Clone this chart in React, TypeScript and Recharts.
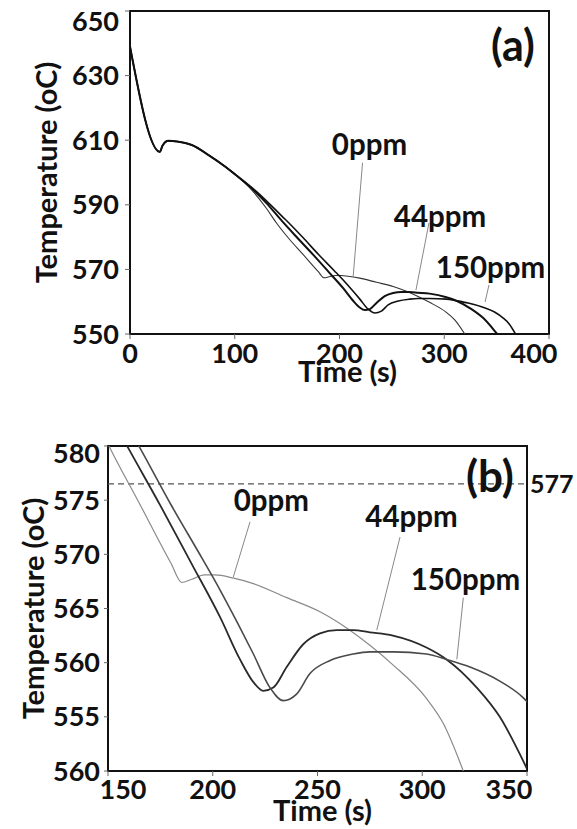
import React from 'react';
import { LineChart, Line, XAxis, YAxis, ReferenceLine, ReferenceArea, ReferenceDot } from 'recharts';

const FONT = 'Lato, "Open Sans", "DejaVu Sans", sans-serif';

// cooling curves, time (s) / temperature (oC)
const TIME_0PPM = [0, 28.6, 31, 36.6, 45, 59, 75, 91, 100, 115, 130, 140, 151, 165, 180, 185.2, 190, 196, 201, 210, 219.4, 235.3, 251.2, 263.9, 275, 286, 302, 310, 319.6];
const TEMP_0PPM = [639, 606.4, 608.3, 609.8, 609.6, 608.5, 605.4, 601.8, 599.5, 595.0, 589.0, 584.3, 579.8, 574.7, 569.2, 567.4, 567.7, 568.1, 568.1, 567.8, 567.3, 566.0, 564.7, 563.2, 561.6, 559.8, 556.7, 554.4, 550];

const TIME_44PPM = [0, 28.6, 31, 36.6, 45, 59, 75, 91, 100, 115, 130, 145, 159.7, 175, 190, 203.5, 213, 219.4, 224.1, 228.9, 235.3, 243.2, 251.2, 259.2, 267, 275, 286, 302, 311.6, 326, 337, 348, 350.5];
const TEMP_44PPM = [639, 606.4, 608.3, 609.8, 609.6, 608.5, 605.4, 601.8, 599.5, 595.4, 590.6, 585.0, 579.8, 574.5, 569.1, 564.2, 560.3, 558.2, 557.4, 557.7, 559.6, 561.7, 562.7, 563.0, 563.0, 562.8, 562.5, 561.4, 560.3, 557.7, 555.0, 551.0, 550];

const TIME_150PPM = [0, 28.6, 31, 36.6, 45, 59, 75, 91, 100, 115, 130, 145, 155, 165.3, 180, 195, 203.5, 212, 219.4, 227.3, 233.7, 240, 246.4, 256, 267, 275, 286, 302, 311.6, 322.8, 337, 348, 356, 362, 368];
const TEMP_150PPM = [639, 606.4, 608.3, 609.8, 609.6, 608.5, 605.4, 601.8, 599.5, 595.7, 591.3, 586.5, 583.3, 579.8, 574.6, 569.6, 566.7, 563.6, 560.8, 557.7, 556.5, 557.1, 559.0, 560.2, 560.8, 561.0, 561.0, 560.8, 560.3, 559.6, 558.3, 556.8, 555.0, 553.1, 550];

const A_X_TICKS = [0, 100, 200, 300, 400];
const A_Y_TICKS = [550, 570, 590, 610, 630, 650];
const B_X_TICKS = [150, 200, 250, 300, 350];
const B_Y_TICKS = [550, 555, 560, 565, 570, 575, 580];
const B_Y_TICK_LABELS = ['560', '555', '560', '565', '570', '575', '580'];
const EUTECTIC = 576.5;
const EUTECTIC_LABEL = '577';

const toPoints = (t: number[], T: number[]) => t.map((x, i) => ({ t: x, T: T[i] }));

const SERIES = [
  { name: '0ppm', data: toPoints(TIME_0PPM, TEMP_0PPM) },
  { name: '44ppm', data: toPoints(TIME_44PPM, TEMP_44PPM) },
  { name: '150ppm', data: toPoints(TIME_150PPM, TEMP_150PPM) },
];

// curve labels and their leader lines (data coords)
const A_NOTES = [
  { text: '0ppm', x: 228.6, y: 608.7, from: [222, 603], to: [213, 567.6] },
  { text: '44ppm', x: 296, y: 586.4, from: [285.4, 584.4], to: [273, 563.6] },
  { text: '150ppm', x: 344.2, y: 570.6, from: [342.7, 565.2], to: [339, 559.9] },
];
const B_NOTES = [
  { text: '0ppm', x: 228, y: 575.0, from: [217.8, 573.0], to: [209.8, 567.9] },
  { text: '44ppm', x: 294.9, y: 573.5, from: [289.4, 571.6], to: [278.3, 563.0] },
  { text: '150ppm', x: 320.6, y: 567.7, from: [319.6, 566.0], to: [316.5, 560.3] },
];

const A_STYLE = [
  { stroke: '#333', width: 1.1 },
  { stroke: '#111', width: 2 },
  { stroke: '#111', width: 1.6 },
];
const B_STYLE = [
  { stroke: '#8a8a8a', width: 1.2 },
  { stroke: '#2a2a2a', width: 1.8 },
  { stroke: '#4a4a4a', width: 1.6 },
];

function XTick(props: any) {
  const { x, y, payload, index, shifts } = props;
  const dx = (shifts && shifts[index]) || 0;
  return (
    <text x={x + dx} y={y} dy={18} textAnchor="middle" fontSize={27} fontWeight={700} fill="#111">
      {payload.value}
    </text>
  );
}

function YTick(props: any) {
  const { x, y, payload, ticks, labels, top, topShift } = props;
  const i = ticks.indexOf(payload.value);
  const text = labels ? labels[i] : payload.value;
  const dy = payload.value === top ? topShift : 0;
  return (
    <text x={x} y={y + dy} dy={9.5} textAnchor="end" fontSize={27} fontWeight={700} fill="#111">
      {text}
    </text>
  );
}

function notes(list: typeof A_NOTES) {
  const out: any[] = [];
  list.forEach((n, i) => {
    out.push(
      <ReferenceLine
        key={'l' + i}
        segment={[{ x: n.from[0], y: n.from[1] }, { x: n.to[0], y: n.to[1] }]}
        stroke="#888"
        strokeWidth={1}
      />
    );
    out.push(
      <ReferenceDot
        key={'d' + i}
        x={n.x}
        y={n.y}
        r={1}
        fill="none"
        stroke="none"
        label={{ value: n.text, position: 'center', fontSize: 29.5, fontWeight: 700, fill: '#111' }}
      />
    );
  });
  return out;
}

export default function App() {
  return (
    <div style={{ position: 'absolute', left: 0, top: 0, width: 577, height: 829, background: '#fff', fontFamily: FONT, fontWeight: 700 }}>
      <div style={{ position: 'absolute', left: 0, top: 0 }}>
        <LineChart width={577} height={400} margin={{ top: 11, right: 28, bottom: 0, left: 0 }}>
          <XAxis
            dataKey="t"
            type="number"
            domain={[0, 400]}
            ticks={A_X_TICKS}
            allowDataOverflow
            height={66}
            axisLine={false}
            tickSize={5}
            tickMargin={6}
            tickLine={{ stroke: '#666', strokeWidth: 1 }}
            tick={<XTick shifts={[0, 0, 0, 0, -15]} />}
            label={{ value: 'Time (s)', position: 'insideBottom', offset: 18, dx: 8, fontSize: 29, fontWeight: 700, fill: '#111' }}
          />
          <YAxis
            dataKey="T"
            type="number"
            domain={[550, 650]}
            ticks={A_Y_TICKS}
            allowDataOverflow
            width={130}
            axisLine={false}
            tickSize={5}
            tickMargin={6}
            tickLine={{ stroke: '#666', strokeWidth: 1 }}
            tick={<YTick ticks={A_Y_TICKS} top={650} topShift={10} />}
            label={{ value: 'Temperature (oC)', angle: -90, position: 'insideLeft', offset: 47, fontSize: 29, fontWeight: 700, fill: '#111', style: { textAnchor: 'middle' } }}
          />
          <ReferenceArea x1={0} x2={400} y1={550} y2={650} fill="none" stroke="#111" strokeWidth={2} />
          {SERIES.map((s, i) => (
            <Line
              key={s.name}
              data={s.data}
              dataKey="T"
              type="monotone"
              stroke={A_STYLE[i].stroke}
              strokeWidth={A_STYLE[i].width}
              dot={false}
              isAnimationActive={false}
            />
          ))}
          {notes(A_NOTES)}
          <ReferenceDot x={365.6} y={639.2} r={1} fill="none" stroke="none"
            label={{ value: '(a)', position: 'center', fontSize: 43, fontWeight: 700, fill: '#111' }} />
        </LineChart>
      </div>

      <div style={{ position: 'absolute', left: 0, top: 400 }}>
        <LineChart width={577} height={429} margin={{ top: 46, right: 50, bottom: 0, left: 0 }}>
          <XAxis
            dataKey="t"
            type="number"
            domain={[150, 350]}
            ticks={B_X_TICKS}
            allowDataOverflow
            height={58}
            axisLine={false}
            tickSize={5}
            tickMargin={5}
            tickLine={{ stroke: '#666', strokeWidth: 1 }}
            tick={<XTick shifts={[15, 0, 0, 0, -18]} />}
            label={{ value: 'Time (s)', position: 'insideBottom', offset: 8, dx: 5, fontSize: 29, fontWeight: 700, fill: '#111' }}
          />
          <YAxis
            dataKey="T"
            type="number"
            domain={[550, 580]}
            ticks={B_Y_TICKS}
            allowDataOverflow
            width={108}
            axisLine={false}
            tickSize={4}
            tickMargin={4}
            tickLine={{ stroke: '#666', strokeWidth: 1 }}
            tick={<YTick ticks={B_Y_TICKS} labels={B_Y_TICK_LABELS} top={580} topShift={7} />}
            label={{ value: 'Temperature (oC)', angle: -90, position: 'insideLeft', offset: 29, dx: 5, fontSize: 29, fontWeight: 700, fill: '#111', style: { textAnchor: 'middle' } }}
          />
          <ReferenceArea x1={150} x2={350} y1={550} y2={580} fill="none" stroke="#111" strokeWidth={2} />
          <ReferenceLine
            y={EUTECTIC}
            stroke="#555"
            strokeWidth={1.2}
            strokeDasharray="6 4"
            label={{ value: EUTECTIC_LABEL, position: 'right', offset: 3, fontSize: 25, fontWeight: 700, fill: '#111' }}
          />
          {SERIES.map((s, i) => (
            <Line
              key={s.name}
              data={s.data}
              dataKey="T"
              type="monotone"
              stroke={B_STYLE[i].stroke}
              strokeWidth={B_STYLE[i].width}
              dot={false}
              isAnimationActive={false}
            />
          ))}
          {notes(B_NOTES)}
          <ReferenceDot x={332.3} y={577.2} r={1} fill="none" stroke="none"
            label={{ value: '(b)', position: 'center', fontSize: 44, fontWeight: 700, fill: '#111' }} />
        </LineChart>
      </div>
    </div>
  );
}
